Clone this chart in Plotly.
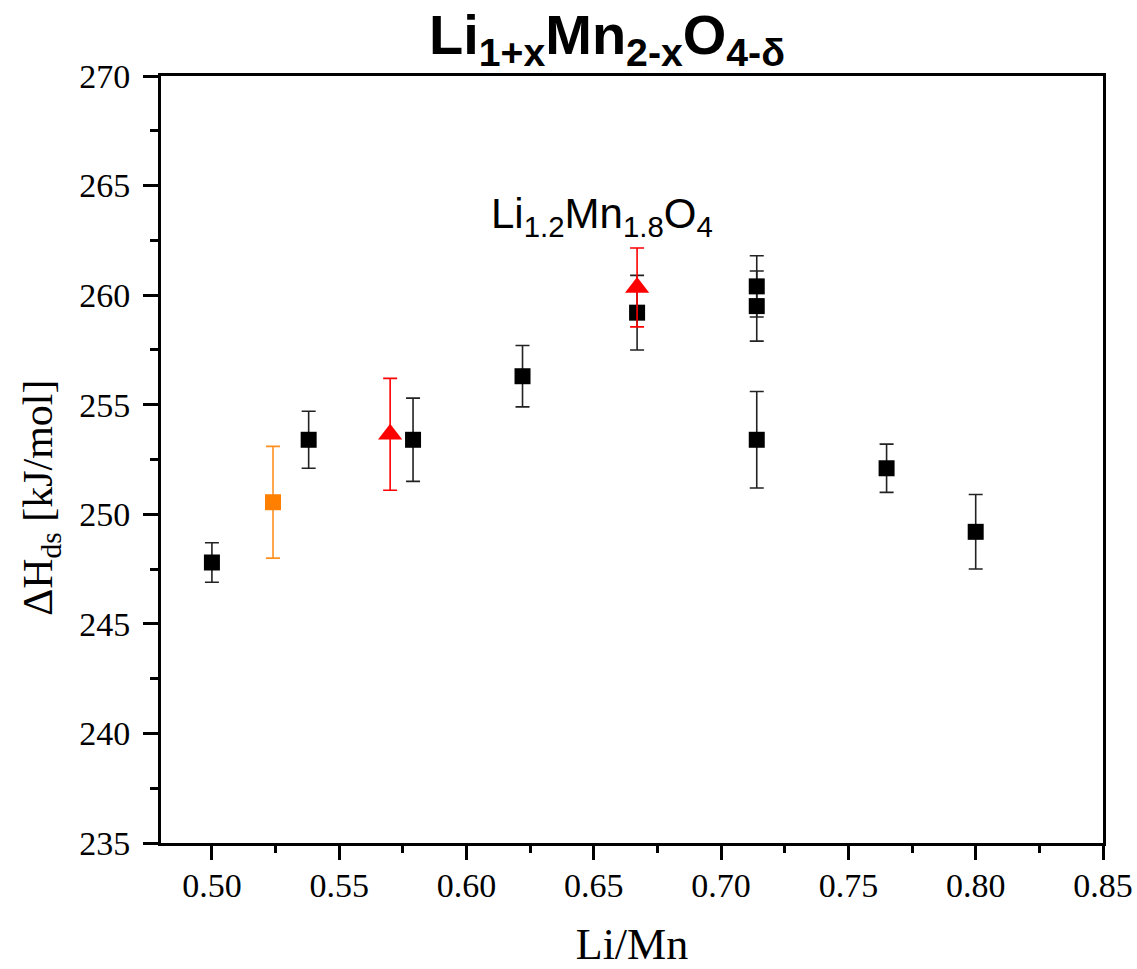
import plotly.graph_objects as go

# Data
black_x = [0.500, 0.538, 0.579, 0.622, 0.667, 0.714, 0.714, 0.714, 0.765, 0.800]
black_y = [247.8, 253.4, 253.4, 256.3, 259.2, 260.4, 259.5, 253.4, 252.1, 249.2]
black_err = [0.9, 1.3, 1.9, 1.4, 1.7, 1.4, 1.6, 2.2, 1.1, 1.7]

orange_x = [0.524]
orange_y = [250.55]
orange_err = [2.55]

red_x = [0.570, 0.667]
red_y = [253.65, 260.35]
red_err = [2.55, 1.8]

x_ticks = [0.50, 0.55, 0.60, 0.65, 0.70, 0.75, 0.80, 0.85]
x_tick_labels = ["0.50", "0.55", "0.60", "0.65", "0.70", "0.75", "0.80", "0.85"]
y_ticks = [235, 240, 245, 250, 255, 260, 265, 270]

fig = go.Figure()

fig.add_trace(go.Scatter(
    x=black_x, y=black_y, mode="markers",
    marker=dict(symbol="square", size=16, color="black"),
    error_y=dict(type="data", array=black_err, visible=True,
                 color="#222222", thickness=1.6, width=7),
    showlegend=False))

fig.add_trace(go.Scatter(
    x=orange_x, y=orange_y, mode="markers",
    marker=dict(symbol="square", size=16, color="#FF8000"),
    error_y=dict(type="data", array=orange_err, visible=True,
                 color="#FF9020", thickness=1.6, width=7),
    showlegend=False))

fig.add_trace(go.Scatter(
    x=red_x, y=red_y, mode="markers",
    marker=dict(symbol="triangle-up", size=21, color="#FF0000"),
    error_y=dict(type="data", array=red_err, visible=True,
                 color="#FF0000", thickness=1.6, width=7),
    showlegend=False))

serif = "Liberation Serif"
sans = "Liberation Sans"

fig.update_layout(
    width=1137, height=969,
    margin=dict(l=161, r=34, t=76, b=126),
    paper_bgcolor="white", plot_bgcolor="white",
    xaxis=dict(
        range=[0.48, 0.85], tickvals=x_ticks, ticktext=x_tick_labels,
        automargin=False,
        showgrid=False, zeroline=False,
        showline=True, linecolor="black", linewidth=3, mirror=True,
        ticks="outside", ticklen=14, tickwidth=2.5, tickcolor="black",
        minor=dict(dtick=0.025, ticks="outside", ticklen=7, tickwidth=2.5, tickcolor="black"),
        tickfont=dict(family=serif, size=34, color="black"),
        ticklabelstandoff=-4,
        title=dict(text="Li/Mn", font=dict(family=serif, size=44, color="black"), standoff=31),
    ),
    yaxis=dict(
        range=[235, 270], tickvals=y_ticks,
        automargin=False,
        showgrid=False, zeroline=False,
        showline=True, linecolor="black", linewidth=3, mirror=True,
        ticks="outside", ticklen=15, tickwidth=2.5, tickcolor="black",
        minor=dict(dtick=2.5, ticks="outside", ticklen=8, tickwidth=2.5, tickcolor="black"),
        tickfont=dict(family=serif, size=34, color="black"),
        ticklabelstandoff=6,
    ),
    annotations=[
        dict(text="<b>Li<sub>1+x</sub>Mn<sub>2-x</sub>O<sub>4-δ</sub></b>",
             xref="paper", yref="paper", x=0.4735, y=1.0, xanchor="center", yanchor="bottom",
             yshift=0, showarrow=False, font=dict(family=sans, size=56, color="black")),
        dict(text="Li<sub>1.2</sub>Mn<sub>1.8</sub>O<sub>4</sub>",
             xref="x", yref="y", x=0.6534, y=263.6, xanchor="center", yanchor="middle",
             showarrow=False, font=dict(family=sans, size=42, color="black")),
        dict(text="ΔH<sub>ds</sub> [kJ/mol]",
             xref="paper", yref="paper", x=-0.1274, y=0.45, xanchor="center", yanchor="middle",
             textangle=-90, showarrow=False, font=dict(family=serif, size=42, color="black")),
    ],
)

fig.write_html("out.html")
